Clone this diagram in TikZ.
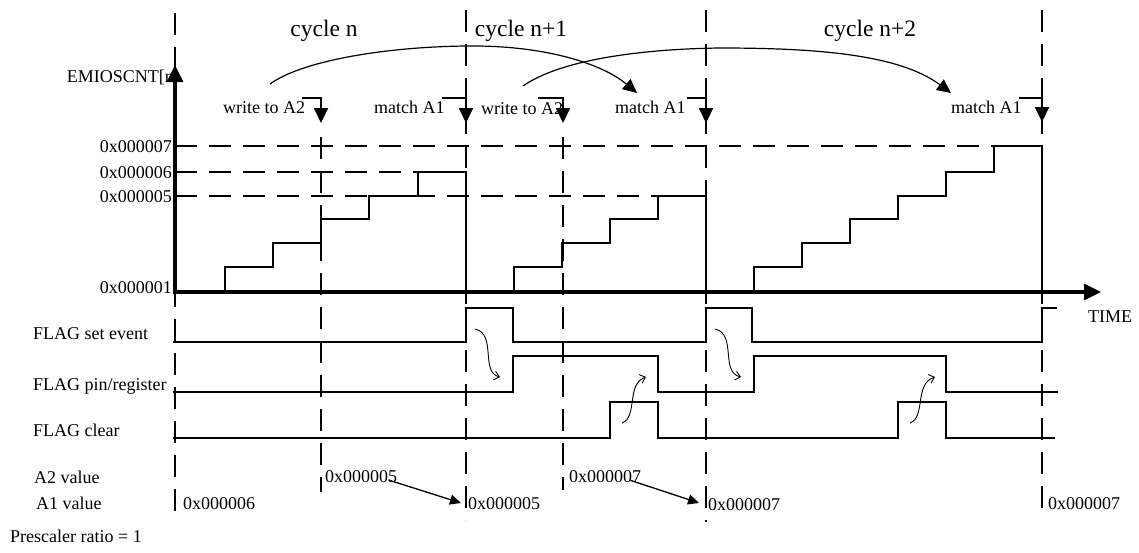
\documentclass[tikz,border=0pt]{standalone}
\usepackage{fontspec}
\setmainfont{Liberation Serif}
\usetikzlibrary{arrows.meta,calc}
\begin{document}
\begin{tikzpicture}[x=1pt,y=-1pt,
  lbl/.style={font=\fontsize{18}{20}\selectfont, inner sep=0pt},
  cyc/.style={font=\fontsize{23.5}{26}\selectfont, inner sep=0pt},
  sig/.style={line width=2pt, line join=miter},
  stair/.style={line width=2.7pt, line join=miter},
  axis/.style={line width=3.2pt, -{Triangle[length=17pt,width=16pt]}},
  grid/.style={line width=2pt, dash pattern=on 22pt off 12pt},
  evarrow/.style={line width=2pt, line join=miter, -{Triangle[length=15pt,width=14pt]}},
  curv/.style={line width=1.2pt, -{Triangle[length=14pt,width=13pt]}},
  valarrow/.style={line width=1.3pt, -{Triangle[length=11pt,width=10pt]}},
  wavy/.style={line width=0.9pt, -{Straight Barb[length=5pt,width=9pt]}}
]
\useasboundingbox (0,0) rectangle (1139,552);

% vertical dashed lines
\draw[grid] (175,13) -- (175,517);
\draw[grid] (466,10) -- (466,520);
\draw[grid] (706,10) -- (706,522);
\draw[grid] (1042,10) -- (1042,517);
\draw[grid] (321,137) -- (321,492);
\draw[grid] (563,137) -- (563,490);

% horizontal dashed level lines
\draw[grid] (175,146) -- (1042,146);
\draw[grid] (175,172) -- (418,172);
\draw[grid] (175,196) -- (658,196);

% titles
\node[cyc, anchor=base] (cn)  at (324,36) {cycle n};
\node[cyc, anchor=base] (cn1) at (521,36) {cycle n+1};
\node[cyc, anchor=base] (cn2) at (870,36) {cycle n+2};

% event labels
\node[lbl, anchor=base east] (ylab) at (174,82) {EMIOSCNT[n};
\node[lbl, anchor=base west] (w1) at (223,113) {write to A2};
\node[lbl, anchor=base west] (m1) at (374,113) {match A1};
\node[lbl, anchor=base west] (w2) at (481,114) {write to A2};
\node[lbl, anchor=base west] (m2) at (615,113) {match A1};
\node[lbl, anchor=base west] (m3) at (951,113) {match A1};

% event arrows
\draw[evarrow] (302,98) -- (321,98) -- (321,123);
\draw[evarrow] (442,98) -- (466,98) -- (466,123);
\draw[evarrow] (538,98) -- (563,98) -- (563,123);
\draw[evarrow] (687,98) -- (706,98) -- (706,123);
\draw[evarrow] (1019,98) -- (1042,98) -- (1042,122);

% curved arrows at top
\coordinate (c1s) at (270,84);
\coordinate (c1m) at (466,46);
\coordinate (c1e) at (637,93);
\coordinate (c2s) at (523,86);
\coordinate (c2m) at (720,48);
\coordinate (c2e) at (951,93);
\draw[curv] (c1s) .. controls (300,62) and (380,47) .. (c1m)
  .. controls (540,45) and (600,62) .. (c1e);
\draw[curv] (c2s) .. controls (560,60) and (640,49) .. (c2m)
  .. controls (820,48) and (900,55) .. (c2e);

% y labels
\node[lbl, anchor=base east] (v7) at (172,152) {0x000007};
\node[lbl, anchor=base east] (v6) at (172,178) {0x000006};
\node[lbl, anchor=base east] (v5) at (172,202) {0x000005};
\node[lbl, anchor=base east] (v1) at (172,293) {0x000001};
\node[lbl, anchor=base west] (time) at (1088,322) {TIME};

% staircases
\draw[stair] (225,292) -- (225,267) -- (273,267) -- (273,243) -- (321,243) -- (321,219)
  -- (369,219) -- (369,196) -- (418,196) -- (418,172) -- (466,172) -- (466,292);
\draw[stair] (514,292) -- (514,267) -- (562,267) -- (562,243) -- (610,243) -- (610,219)
  -- (658,219) -- (658,196) -- (706,196) -- (706,292);
\draw[stair] (754,292) -- (754,267) -- (802,267) -- (802,243) -- (850,243) -- (850,219)
  -- (898,219) -- (898,196) -- (946,196) -- (946,172) -- (994,172) -- (994,146)
  -- (1042,146) -- (1042,292);

% axes
\draw[axis] (175,293.6) -- (175,65);
\draw[axis] (173.4,292) -- (1101,292);

% flag signals
\node[lbl, anchor=base west] (fse) at (33,339) {FLAG set event};
\node[lbl, anchor=base west] (fpr) at (33,390) {FLAG pin/register};
\node[lbl, anchor=base west] (fcl) at (33,436) {FLAG clear};
\draw[sig] (173,342) -- (466,342) -- (466,308) -- (513,308) -- (513,342) -- (706,342)
  -- (706,308) -- (752,308) -- (752,342) -- (1042,342) -- (1042,308) -- (1057,308);
\draw[sig] (173,392) -- (513,392) -- (513,356) -- (658,356) -- (658,392) -- (754,392)
  -- (754,356) -- (946,356) -- (946,392) -- (1058,392);
\draw[sig] (173,438) -- (610,438) -- (610,402) -- (658,402) -- (658,438) -- (898,438)
  -- (898,402) -- (946,402) -- (946,438) -- (1055,438);

% wavy cause arrows
\draw[wavy] (475,329) .. controls (497,334) and (480,372) .. (500,377);
\draw[wavy] (715,329) .. controls (737,334) and (720,372) .. (741,377);
\draw[wavy] (622,423) .. controls (638,417) and (626,384) .. (646,377);
\draw[wavy] (910,423) .. controls (926,417) and (914,384) .. (935,377);

% register values
\node[lbl, anchor=base west] (a2l) at (34,483) {A2 value};
\node[lbl, anchor=base west] (a1l) at (36,509) {A1 value};
\node[lbl, anchor=base west] (psr) at (10,542) {Prescaler ratio = 1};
\node[lbl, anchor=base west] (a1v0) at (183,509) {0x000006};
\node[lbl, anchor=base west] (a2v1) at (325,482) {0x000005};
\node[lbl, anchor=base west] (a1v1) at (468,509) {0x000005};
\node[lbl, anchor=base west] (a2v2) at (569,482) {0x000007};
\node[lbl, anchor=base west] (a1v2) at (708,510) {0x000007};
\node[lbl, anchor=base west] (a1v3) at (1048,509) {0x000007};
\draw[valarrow] ($(a2v1.base east)+(-9,-2)$) -- ($(a1v1.base west)+(-7,-6)$);
\draw[valarrow] ($(a2v2.base east)+(-12,-2)$) -- ($(a1v2.base west)+(-9,-7)$);
\end{tikzpicture}
\end{document}
